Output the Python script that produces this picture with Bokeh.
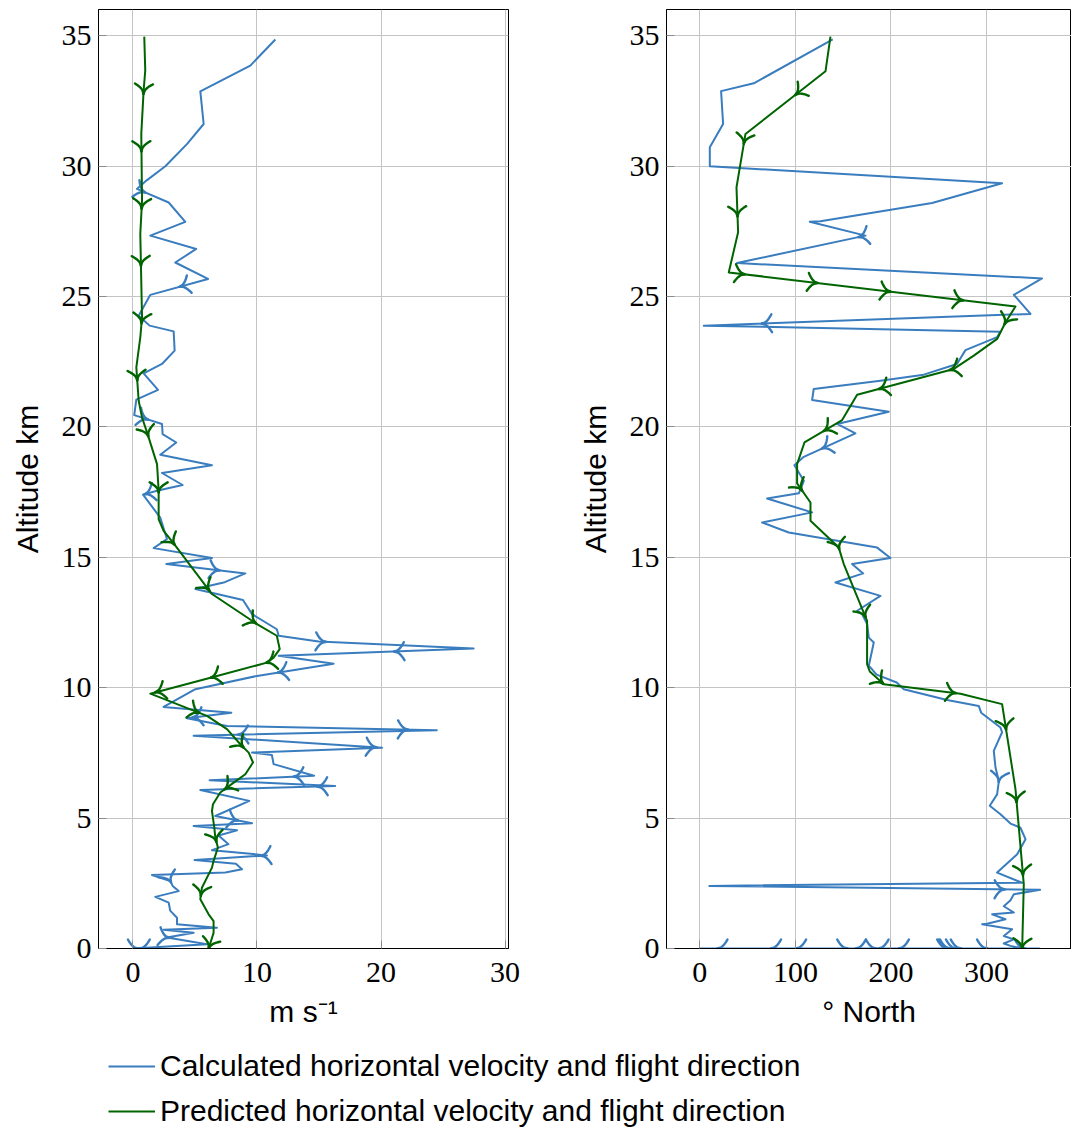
import numpy as np
from bokeh.plotting import figure
from bokeh.layouts import column, row
from bokeh.models import Legend, LegendItem, FixedTicker
from bokeh.embed import file_html
from bokeh.resources import INLINE

# ---------------- data ----------------
# Calculated horizontal speed (m/s) against altitude (km), descending
calc_alt_v = [34.85, 33.85, 32.86, 31.61, 30.84, 29.99, 29.44, 29.12, 28.60, 27.86,
              27.33, 26.82, 26.30, 25.67, 25.06, 24.26, 23.88, 23.66, 22.92, 22.41,
              22.05, 21.42, 21.04, 20.45, 20.11, 19.72, 19.40, 18.93, 18.53, 18.23,
              17.77, 17.55, 17.40, 16.52, 15.70, 15.35, 14.97, 14.74, 14.38, 14.03,
              13.78, 13.36, 12.82, 12.24, 11.99, 11.77, 11.50, 11.22, 10.92, 10.45,
              9.94, 9.26, 9.04, 8.83, 8.53, 8.37, 8.16, 7.70, 7.51, 7.42,
              7.07, 6.62, 6.45, 6.23, 6.08, 5.66, 5.08, 4.80, 4.70, 4.53,
              4.33, 4.00, 3.77, 3.57, 3.39, 3.25, 3.04, 2.91, 2.82, 2.59,
              2.40, 2.20, 1.98, 1.76, 1.45, 1.18, 0.93, 0.80, 0.72, 0.60,
              0.42, 0.16]
calc_speed = [11.48, 9.46, 5.43, 5.70, 4.35, 2.61, 1.08, 0.32, 2.88, 4.22,
              1.40, 5.10, 3.41, 6.05, 1.40, 0.46, 1.34, 3.28, 3.36, 2.34,
              0.86, 2.02, 0.27, 0.10, 2.34, 2.39, 3.49, 2.20, 6.37, 2.34,
              4.00, 1.94, 0.81, 2.20, 2.74, 1.67, 6.37, 2.69, 9.06, 7.31,
              5.03, 8.87, 9.60, 11.60, 11.75, 14.97, 27.47, 11.75, 16.18, 10.00,
              5.03, 2.47, 7.93, 4.35, 7.58, 24.50, 4.89, 20.08, 9.60, 11.20,
              11.34, 14.60, 6.18, 16.30, 5.43, 9.38, 6.64, 9.60, 4.89, 8.39,
              6.90, 7.70, 6.37, 10.80, 4.97, 8.30, 8.79, 7.45, 1.53, 3.01,
              3.20, 3.68, 1.80, 2.88, 3.00, 3.55, 3.55, 6.77, 2.47, 4.89,
              2.74, 5.97]

# Calculated flight direction (degrees from north) against altitude (km)
calc_alt_d = [34.85, 33.17, 32.87, 31.61, 30.72, 29.99, 29.34, 28.58, 27.88, 27.86,
              27.33, 26.28, 25.69, 25.06, 24.33, 23.88, 23.65, 23.44, 22.94, 22.41,
              22.00, 21.77, 21.45, 21.03, 20.58, 20.11, 19.75, 18.85, 18.53, 17.93,
              17.45, 17.25, 16.72, 16.33, 15.95, 15.37, 14.97, 14.74, 14.38, 14.03,
              13.52, 12.95, 12.82, 12.44, 11.92, 11.73, 10.84, 10.50, 10.20, 9.94,
              9.53, 9.30, 9.04, 8.47, 8.29, 7.58, 6.94, 6.42, 5.91, 5.47,
              5.15, 4.79, 4.63, 4.19, 3.61, 2.91, 2.52, 2.40, 2.25, 2.08,
              1.85, 1.62, 1.38, 1.31, 1.12, 0.95, 0.93, 0.74, 0.48, 0.35,
              0.19, 0.10]
calc_dir = [139.1, 56.5, 22.3, 24.4, 10.5, 10.5, 316.2, 243.0, 126.2, 115.0,
            173.3, 39.0, 358.0, 328.5, 345.9, 4.2, 314.5, 311.0, 277.9, 269.0,
            234.3, 189.0, 119.2, 117.5, 197.7, 143.7, 162.8, 108.8, 99.0, 108.8,
            103.6, 70.4, 117.5, 65.2, 93.1, 185.5, 199.4, 159.3, 170.9, 141.9,
            189.0, 164.6, 169.8, 175.0, 176.8, 182.0, 176.8, 185.0, 206.0, 213.4,
            258.7, 291.8, 294.3, 314.5, 316.2, 307.5, 309.3, 312.8, 311.0, 303.3,
            314.5, 325.0, 335.4, 340.7, 332.0, 311.0, 337.2, 10.0, 356.0, 328.5,
            325.0, 318.0, 328.5, 305.8, 319.7, 300.6, 295.3, 326.7, 318.0, 328.5,
            318.0, 325.0]

# Samples logged after touchdown (altitude 0)
ground_speed = [0.0, 0.6, 1.0, 0.3, 0.7, 0.4, 1.2, 0.2, 0.5, 0.9,
                0.3, 0.7, 0.1, 1.1, 0.5, 0.2, 0.8, 0.4, 0.6, 0.2,
                1.0, 0.5, 0.3, 0.7, 0.1, 0.6, 1.3, 0.3, 0.5, 0.8,
                0.2, 0.6, 0.4, 0.9, 0.3, 0.6, 0.3, 0.7, 0.2, 0.5,
                0.8, 0.3, 0.6, 0.2, 0.9, 0.4, 0.7, 0.1, 0.5, 0.3,
                1.0, 0.4, 0.6, 0.2, 0.8, 0.3, 0.5, 0.7, 0.2, 0.4]
ground_dir = [338, 25, 310, 80, 5, 240, 150, 350, 60, 200,
              330, 110, 15, 270, 185, 45, 355, 130, 300, 20,
              215, 95, 340, 170, 10, 260, 70, 320, 140, 30,
              290, 100, 350, 225, 55, 180, 315, 0, 125, 335,
              35, 280, 90, 345, 160, 20, 250, 120, 352, 65,
              195, 8, 305, 145, 40, 275, 85, 340, 175, 340]

# Predicted horizontal speed (m/s) against altitude (km)
pred_alt_v = [34.96, 33.66, 32.90, 31.23, 28.67, 27.39, 24.20, 23.43, 22.28, 21.00,
              20.36, 19.72, 18.57, 17.55, 16.46, 16.01, 15.53, 13.59, 12.44, 11.99,
              11.48, 11.15, 10.96, 10.36, 9.77, 8.92, 8.41, 7.83, 7.51, 7.13,
              6.68, 6.36, 5.98, 5.53, 5.27, 4.63, 4.25, 3.87, 3.36, 3.10,
              2.33, 1.89, 1.31, 1.05, 0.60, 0.00]
pred_speed = [0.91, 0.99, 0.86, 0.67, 0.73, 0.59, 0.73, 0.59, 0.27, 0.46,
              0.73, 1.18, 1.94, 2.07, 2.07, 2.47, 3.28, 6.37, 10.00, 11.60,
              11.83, 11.34, 10.80, 6.10, 1.40, 5.97, 7.58, 8.66, 9.33, 9.68,
              9.06, 8.12, 7.04, 6.45, 6.37, 6.56, 6.64, 6.85, 6.50, 6.37,
              5.56, 5.43, 6.10, 6.50, 6.50, 6.10]

# Predicted flight direction (degrees from north) against altitude (km)
pred_alt_d = [34.96, 33.63, 31.23, 29.18, 27.46, 25.92, 24.61, 24.00, 23.37, 22.73,
              22.22, 21.23, 20.26, 19.40, 18.57, 17.83, 17.10, 16.40, 15.37, 14.74,
              12.56, 10.90, 10.62, 10.13, 9.77, 9.37, 6.11, 2.46, 0.00]
pred_dir = [136.7, 131.5, 47.8, 38.4, 40.1, 30.3, 330.2, 319.7, 311.0, 286.6,
            265.7, 164.6, 148.9, 109.5, 101.8, 101.8, 115.8, 115.8, 145.4, 150.6,
            175.0, 175.0, 177.8, 192.5, 272.7, 316.2, 330.2, 338.9, 337.2]

x_ticks_speed = [0, 10, 20, 30]
x_ticks_dir = [0, 100, 200, 300]
y_ticks = [0, 5, 10, 15, 20, 25, 30, 35]

legend_labels = ["Calculated horizontal velocity and flight direction",
                 "Predicted horizontal velocity and flight direction"]

# ---------------- styling ----------------
BLUE = "#3a7dbf"
GREEN = "#006400"
Y_RANGE = (0.0, 36.0)
FRAME_H = 939
LEFT_FW, RIGHT_FW = 410, 405
LEFT_XR = (-2.78, 30.28)
RIGHT_XR = (-34.8, 388.8)


def arrow_marks(xs, ys, xr, yr, fw, fh, n=20, length=10.0, half=9.0):
    """Open arrowheads spaced evenly along the on-screen path length."""
    sx = fw / (xr[1] - xr[0])
    sy = fh / (yr[1] - yr[0])
    X = (np.asarray(xs, float) - xr[0]) * sx
    Y = (np.asarray(ys, float) - yr[0]) * sy
    seg = np.hypot(np.diff(X), np.diff(Y))
    cum = np.concatenate([[0.0], np.cumsum(seg)])
    total = cum[-1]
    t = np.linspace(0.0, 1.0, 9)
    bxs, bys = [], []
    for k in range(1, n + 1):
        s = total * k / n
        i = int(np.searchsorted(cum, s, side="right") - 1)
        i = min(max(i, 0), len(seg) - 1)
        while seg[i] == 0 and i > 0:
            i -= 1
        f = (s - cum[i]) / seg[i]
        px = X[i] + f * (X[i + 1] - X[i])
        py = Y[i] + f * (Y[i + 1] - Y[i])
        dx = (X[i + 1] - X[i]) / seg[i]
        dy = (Y[i + 1] - Y[i]) / seg[i]
        nx, ny = -dy, dx
        # barbs leave the tip close to the shaft and flare outwards
        back = length * np.sqrt(t)
        side = half * t
        for sgn in (1.0, -1.0):
            qx = px - dx * back + sgn * nx * side
            qy = py - dy * back + sgn * ny * side
            bxs.append(list(qx / sx + xr[0]))
            bys.append(list(qy / sy + yr[0]))
    return bxs, bys


def make_panel(xr, fw, border_left, border_right, xticks, xlabel):
    p = figure(x_range=xr, y_range=Y_RANGE, frame_width=fw, frame_height=FRAME_H,
               min_border_left=border_left, min_border_right=border_right,
               min_border_top=9, min_border_bottom=92,
               toolbar_location=None, output_backend="svg")
    p.xaxis.ticker = FixedTicker(ticks=xticks)
    p.yaxis.ticker = FixedTicker(ticks=y_ticks)
    p.xaxis.axis_label = xlabel
    p.yaxis.axis_label = "Altitude km"
    for ax in (p.xaxis[0], p.yaxis[0]):
        ax.major_label_text_font = "Liberation Serif"
        ax.major_label_text_font_size = "30px"
        ax.major_label_text_color = "black"
        ax.axis_label_text_font = "Liberation Sans"
        ax.axis_label_text_font_size = "30px"
        ax.axis_label_text_font_style = "normal"
        ax.axis_label_text_color = "black"
        ax.major_tick_in = 8
        ax.major_tick_out = 0
        ax.major_tick_line_color = "#8c8c8c"
        ax.minor_tick_line_color = None
        ax.axis_line_color = "black"
    p.xaxis.major_label_standoff = 14
    p.xaxis.axis_label_standoff = 10
    p.yaxis.major_label_standoff = 7
    p.yaxis.axis_label_standoff = 15
    p.grid.grid_line_color = "#c4c4c4"
    p.grid.grid_line_width = 1
    p.outline_line_color = "black"
    p.outline_line_width = 1
    p.background_fill_color = "white"
    p.border_fill_color = "white"
    return p


def draw_track(p, xs, ys, color, xr, fw):
    p.line(xs, ys, line_color=color, line_width=2, line_join="round")
    bx, by = arrow_marks(xs, ys, xr, Y_RANGE, fw, FRAME_H)
    p.multi_line(bx, by, line_color=color, line_width=2.4, line_cap="round",
                 line_join="round")


zeros = [0.0] * len(ground_speed)

left = make_panel(LEFT_XR, LEFT_FW, 98, 32, x_ticks_speed, "m s\u207b\u00b9")
draw_track(left, calc_speed + ground_speed, calc_alt_v + zeros, BLUE, LEFT_XR, LEFT_FW)
draw_track(left, pred_speed, pred_alt_v, GREEN, LEFT_XR, LEFT_FW)

right = make_panel(RIGHT_XR, RIGHT_FW, 126, 0, x_ticks_dir, "\u00b0 North")
draw_track(right, calc_dir + ground_dir, calc_alt_d + zeros, BLUE, RIGHT_XR, RIGHT_FW)
draw_track(right, pred_dir, pred_alt_d, GREEN, RIGHT_XR, RIGHT_FW)

# ---------------- legend strip ----------------
leg = figure(width=1071, height=89, x_range=(0, 1071), y_range=(0, 89),
             x_axis_location=None, y_axis_location=None,
             min_border_left=0, min_border_right=0, min_border_top=0, min_border_bottom=0,
             toolbar_location=None, output_backend="svg")
leg.grid.visible = False
leg.outline_line_color = None
# legend swatches only: these sit outside the strip's visible range
r_calc = leg.line(x=[-60, -50], y=[-60, -60], line_color=BLUE, line_width=2)
r_pred = leg.line(x=[-60, -50], y=[-60, -60], line_color=GREEN, line_width=2)
legend = Legend(items=[LegendItem(label=legend_labels[0], renderers=[r_calc]),
                       LegendItem(label=legend_labels[1], renderers=[r_pred])],
                location=(108, 1), orientation="vertical",
                glyph_width=47, glyph_height=34, label_height=34,
                label_standoff=5, spacing=11, padding=0, margin=0,
                label_text_font="Liberation Sans", label_text_font_size="30px",
                label_text_color="black",
                border_line_color=None, background_fill_alpha=0)
leg.add_layout(legend)

page = column(row(left, right, spacing=0), leg, spacing=0)

open("out.html", "w").write(file_html(page, INLINE))
